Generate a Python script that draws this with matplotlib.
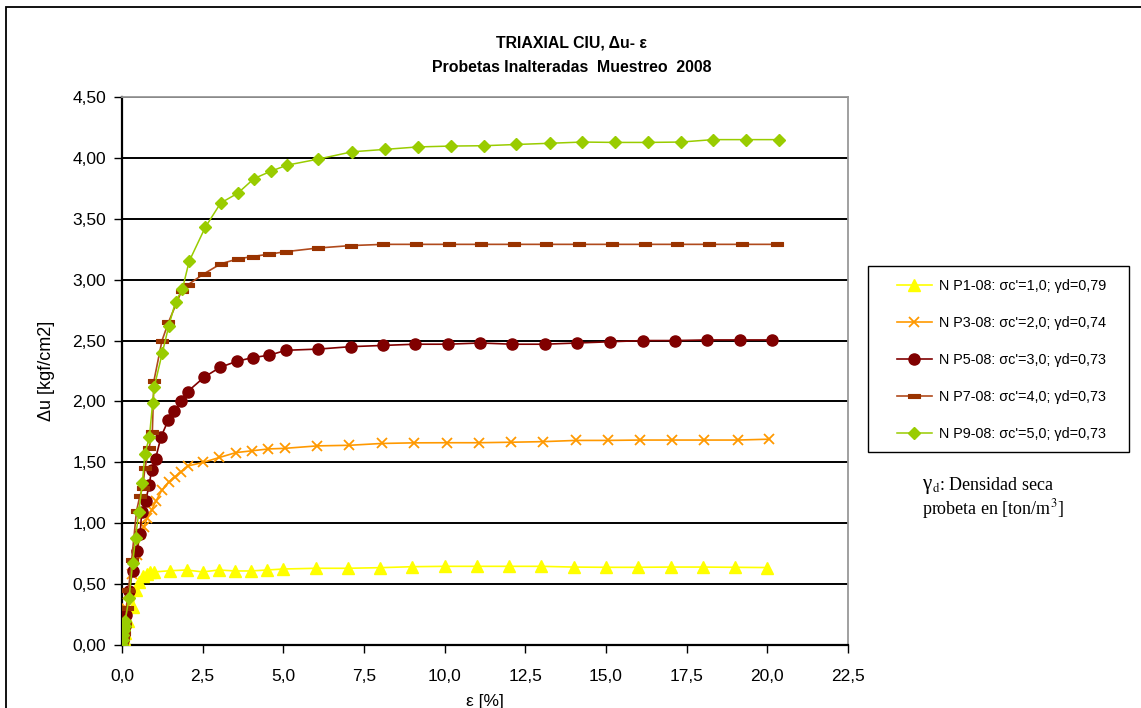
import matplotlib
matplotlib.use("Agg")
import matplotlib.pyplot as plt
from matplotlib.patches import Rectangle
from matplotlib.ticker import MultipleLocator, FuncFormatter

plt.rcParams['font.family'] = ['Liberation Sans', 'DejaVu Sans']
plt.rcParams['mathtext.fontset'] = 'stix'

# ---------------- data ----------------
eps1 = [0, 0.05, 0.1, 0.2, 0.33, 0.43, 0.54, 0.64, 0.76, 0.87, 0.99,
        1.5, 2.0, 2.5, 3.0, 3.5, 4.0, 4.5, 5.0,
        6.0, 7.0, 8.0, 9.0, 10.0, 11.0, 12.0, 13.0, 14.0, 15.0, 16.0, 17.0, 18.0, 19.0, 20.0]
du1 = [0, 0.05, 0.1, 0.2, 0.31, 0.45, 0.52, 0.566, 0.583, 0.597, 0.60,
       0.61, 0.616, 0.60, 0.616, 0.608, 0.608, 0.616, 0.624,
       0.63, 0.63, 0.635, 0.643, 0.646, 0.646, 0.646, 0.646, 0.64, 0.638, 0.638, 0.64, 0.64, 0.638, 0.636]

eps3 = [0, 0.05, 0.12, 0.2, 0.3, 0.45, 0.56, 0.67, 0.78, 0.92, 1.05, 1.23, 1.46, 1.64, 1.82, 2.04,
        2.52, 3.02, 3.53, 4.04, 4.54, 5.05, 6.05, 7.05, 8.05,
        9.05, 10.06, 11.05, 12.05, 13.06, 14.07, 15.05, 16.06, 17.04, 18.05, 19.08, 20.06]
du3 = [0, 0.12, 0.30, 0.42, 0.58, 0.74, 0.91, 0.97, 1.04, 1.11, 1.18, 1.27, 1.34, 1.38, 1.42, 1.47,
       1.50, 1.54, 1.58, 1.595, 1.61, 1.615, 1.635, 1.64, 1.655,
       1.66, 1.661, 1.661, 1.665, 1.67, 1.68, 1.68, 1.683, 1.683, 1.683, 1.683, 1.69]

eps5 = [0, 0.03, 0.06, 0.09, 0.12, 0.22, 0.33, 0.45, 0.56, 0.61, 0.73, 0.84, 0.92, 1.04, 1.21, 1.44,
        1.62, 1.82, 2.03, 2.55, 3.04, 3.56, 4.05, 4.57, 5.08, 6.08, 7.1, 8.1,
        9.08, 10.1, 11.1, 12.1, 13.1, 14.1, 15.12, 16.15, 17.14, 18.14, 19.15, 20.15]
du5 = [0, 0.04, 0.09, 0.16, 0.25, 0.44, 0.61, 0.77, 0.91, 1.09, 1.18, 1.31, 1.44, 1.53, 1.71, 1.85,
       1.92, 2.00, 2.08, 2.20, 2.28, 2.33, 2.36, 2.38, 2.42, 2.43, 2.45, 2.46,
       2.47, 2.47, 2.48, 2.47, 2.47, 2.48, 2.49, 2.50, 2.50, 2.505, 2.505, 2.505]

eps7 = [0, 0.03, 0.06, 0.1, 0.15, 0.2, 0.3, 0.45, 0.55, 0.64, 0.71, 0.84, 0.94, 0.99,
        1.24, 1.44, 1.85, 2.05, 2.55, 3.06, 3.58, 4.05, 4.57, 5.08, 6.07, 7.1, 8.1,
        9.1, 10.13, 11.14, 12.15, 13.15, 14.16, 15.18, 16.2, 17.2, 18.2, 19.2, 20.3]
du7 = [0, 0.05, 0.1, 0.18, 0.3, 0.45, 0.7, 1.1, 1.22, 1.29, 1.45, 1.62, 1.75, 2.17,
       2.50, 2.65, 2.91, 2.96, 3.05, 3.13, 3.17, 3.19, 3.21, 3.23, 3.26, 3.28, 3.29,
       3.29, 3.29, 3.29, 3.29, 3.29, 3.29, 3.29, 3.29, 3.29, 3.29, 3.29, 3.29]

eps9 = [0, 0.02, 0.04, 0.06, 0.08, 0.1, 0.22, 0.33, 0.42, 0.52, 0.63, 0.71, 0.85, 0.95, 1.0,
        1.25, 1.45, 1.66, 1.87, 2.08, 2.58, 3.06, 3.59, 4.09, 4.61, 5.11, 6.08, 7.13, 8.16,
        9.17, 10.19, 11.22, 12.22, 13.25, 14.26, 15.28, 16.29, 17.32, 18.32, 19.35, 20.37]
du9 = [0, 0.04, 0.08, 0.12, 0.16, 0.2, 0.39, 0.67, 0.88, 1.09, 1.33, 1.57, 1.71, 1.99, 2.12,
       2.40, 2.62, 2.82, 2.92, 3.15, 3.43, 3.63, 3.71, 3.83, 3.89, 3.94, 3.99, 4.05, 4.07,
       4.09, 4.097, 4.10, 4.11, 4.12, 4.13, 4.127, 4.127, 4.13, 4.15, 4.15, 4.15]

labels = ["N P1-08: \u03c3c'=1,0; \u03b3d=0,79",
          "N P3-08: \u03c3c'=2,0; \u03b3d=0,74",
          "N P5-08: \u03c3c'=3,0; \u03b3d=0,73",
          "N P7-08: \u03c3c'=4,0; \u03b3d=0,73",
          "N P9-08: \u03c3c'=5,0; \u03b3d=0,73"]

# ---------------- figure ----------------
W, H = 1141, 708
fig = plt.figure(figsize=(W / 100, H / 100), dpi=100)
ax = fig.add_axes([122 / W, 1 - 645 / H, (848 - 122) / W, (645 - 97) / H])

# outer frame
fig.patches.append(Rectangle((6 / W, -0.1), 1.2, (H - 7) / H + 0.1, transform=fig.transFigure,
                             fill=False, edgecolor='black', linewidth=1.3, zorder=0))
# legend frame
fig.patches.append(Rectangle((868 / W, 1 - 452 / H), (1129 - 868) / W, (452 - 266) / H,
                             transform=fig.transFigure, fill=False, edgecolor='black',
                             linewidth=1.0, zorder=0))

dash = [(-1, -0.33), (1, -0.33), (1, 0.33), (-1, 0.33), (-1, -0.33)]

ax.plot(eps1, du1, color='#FFFF00', lw=1.2, marker='^', ms=8.5, mec='#FFFF00', mfc='#FFFF00',
        label=labels[0], zorder=3)
ax.plot(eps3, du3, color='#FF9900', lw=1.2, marker='x', ms=7.5, mew=1.3, mec='#FF9900',
        label=labels[1], zorder=3)
ax.plot(eps5, du5, color='#800000', lw=1.2, marker='o', ms=8, mec='#800000', mfc='#800000',
        label=labels[2], zorder=4)
ax.plot(eps7, du7, color='#B04A1C', lw=1.2, marker=dash, ms=9, mec='#993300', mfc='#993300',
        mew=0.8, label=labels[3], zorder=5)
ax.plot(eps9, du9, color='#99CC00', lw=1.1, marker='D', ms=6.5, mec='#99CC00', mfc='#99CC00',
        label=labels[4], zorder=6)

ax.set_xlim(0, 22.5)
ax.set_ylim(0, 4.5)
ax.xaxis.set_major_locator(MultipleLocator(2.5))
ax.yaxis.set_major_locator(MultipleLocator(0.5))
ax.xaxis.set_major_formatter(FuncFormatter(lambda v, p: f"{v:.1f}".replace('.', ',')))
ax.yaxis.set_major_formatter(FuncFormatter(lambda v, p: f"{v:.2f}".replace('.', ',')))
ax.tick_params(axis='both', direction='out', length=5.5, width=1, labelsize=12.5, colors='black')
ax.tick_params(axis='x', pad=12)
ax.tick_params(axis='y', pad=6)
ax.grid(axis='y', color='black', linewidth=1.4, zorder=1)
ax.set_axisbelow(True)
for s in ['left', 'bottom']:
    ax.spines[s].set_linewidth(1.6)
    ax.spines[s].set_color('black')
for s in ['top', 'right']:
    ax.spines[s].set_linewidth(1.3)
    ax.spines[s].set_color('#999999')

ax.set_ylabel("\u0394u [kgf/cm2]", fontsize=13, labelpad=12)
ax.set_xlabel("\u03b5 [%]", fontsize=12.5, labelpad=7)

fig.text(572 / W, 1 - 43 / H, "TRIAXIAL CIU, \u0394u- \u03b5", ha='center', va='center',
         fontsize=11.4, fontweight='bold')
fig.text(572 / W, 1 - 67 / H, "Probetas Inalteradas  Muestreo  2008", ha='center', va='center',
         fontsize=11.4, fontweight='bold')

leg = ax.legend(loc='upper left', bbox_to_anchor=(897 / W, 1 - 279 / H),
                bbox_transform=fig.transFigure, frameon=False,
                fontsize=10.4, handlelength=2.4, labelspacing=1.6, borderpad=0,
                handletextpad=0.5, borderaxespad=0)

fig.text(922 / W, 1 - 485 / H, "\u03b3", ha='left', va='center',
         fontsize=15, family='Liberation Serif')
fig.text(932 / W, 1 - 485 / H, "$_{\\mathrm{d}}$: Densidad seca", ha='left', va='center',
         fontsize=13, family='Liberation Serif')
fig.text(922 / W, 1 - 509 / H, "probeta en [ton/m$^{3}$]", ha='left', va='center',
         fontsize=13, family='Liberation Serif')

fig.savefig("out.png", dpi=100)
